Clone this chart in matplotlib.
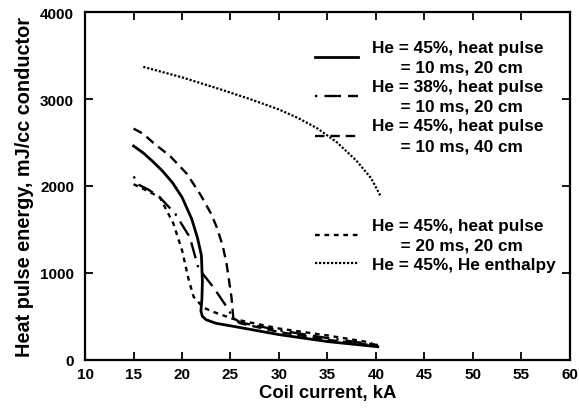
import matplotlib.pyplot as plt

plt.rcParams['font.family'] = ['Liberation Sans', 'DejaVu Sans']
plt.rcParams['font.weight'] = 'bold'

# He = 45%, heat pulse = 10 ms, 20 cm
x_45_10_20 = [15, 16, 17, 18, 19, 20, 21, 21.6, 22.0, 22.1, 22.05, 21.95, 22.1, 22.5, 23.5, 25.3, 30, 35, 40.2]
y_45_10_20 = [2460, 2380, 2280, 2170, 2040, 1870, 1620, 1400, 1200, 900, 700, 560, 500, 460, 420, 385, 290, 210, 150]

# He = 38%, heat pulse = 10 ms, 20 cm
x_38_10_20 = [15, 15.6, 16.5, 17.7, 19.3, 20.8, 21.7, 23.2, 24.6, 25.3, 26, 30, 35, 40.2]
y_38_10_20 = [2110, 2010, 1960, 1870, 1680, 1410, 1050, 840, 610, 480, 430, 340, 250, 170]

# He = 45%, heat pulse = 10 ms, 40 cm
x_45_10_40 = [15, 16, 17, 18.8, 20.5, 21.9, 23.0, 23.6, 24.2, 24.6, 25.1, 25.3, 26, 30, 35, 40.2]
y_45_10_40 = [2660, 2600, 2500, 2340, 2140, 1900, 1680, 1520, 1310, 1100, 720, 470, 420, 320, 230, 160]

# He = 45%, heat pulse = 20 ms, 20 cm
x_45_20_20 = [15, 16.3, 17.7, 19.1, 20.0, 20.7, 21.2, 22.2, 23.5, 25.3, 30, 35, 39.4, 40.2]
y_45_20_20 = [2020, 1950, 1870, 1570, 1260, 916, 724, 600, 540, 470, 360, 280, 200, 140]

# He = 45%, He enthalpy
x_enth = [16.0, 18, 20, 22, 24, 27, 30, 32, 34, 36, 38, 39.5, 40.5]
y_enth = [3370, 3310, 3250, 3180, 3110, 3000, 2880, 2780, 2660, 2500, 2290, 2090, 1880]

labels = ["He = 45%, heat pulse\n      = 10 ms, 20 cm",
          "He = 38%, heat pulse\n      = 10 ms, 20 cm",
          "He = 45%, heat pulse\n      = 10 ms, 40 cm",
          "He = 45%, heat pulse\n      = 20 ms, 20 cm",
          "He = 45%, He enthalpy"]

fig = plt.figure(figsize=(5.79, 4.10), dpi=100)
ax = fig.add_axes([0.147, 0.12, 0.837, 0.848])

lw = 1.7
l1, = ax.plot(x_45_10_20, y_45_10_20, 'k-', lw=lw + 0.3)
l2, = ax.plot(x_38_10_20, y_38_10_20, 'k', lw=lw, dashes=[1, 3, 7, 3, 7, 3])
l3, = ax.plot(x_45_10_40, y_45_10_40, 'k', lw=lw, dashes=[4, 2.5])
l4, = ax.plot(x_45_20_20, y_45_20_20, 'k', lw=lw, dashes=[2, 2])
l5, = ax.plot(x_enth, y_enth, 'k', lw=1.6, dashes=[1, 0.8])

ax.set_xlim(10, 60)
ax.set_ylim(0, 4000)
ax.set_xticks(range(10, 61, 5))
ax.set_yticks(range(0, 4001, 1000))
ax.tick_params(direction='in', top=True, right=True, length=6, width=1.3,
               labelsize=11)
ax.tick_params(axis='y', pad=8)
ax.tick_params(axis='x', pad=5)
for s in ax.spines.values():
    s.set_linewidth(1.6)

ax.set_xlabel("Coil current, kA", fontsize=13.3, fontweight='bold', labelpad=2)
ax.set_ylabel("Heat pulse energy, mJ/cc conductor", fontsize=14.3, fontweight='bold')
ax.yaxis.set_label_coords(-0.105, 0.5)

leg_kw = dict(loc='upper left', frameon=False, fontsize=12.4, handlelength=2.5,
              handletextpad=0.8, labelspacing=0.25, borderaxespad=0, borderpad=0)
leg1 = ax.legend([l1, l2, l3], labels[:3], bbox_to_anchor=(0.474, 0.921), **leg_kw)
ax.add_artist(leg1)
leg2 = ax.legend([l4, l5], labels[3:], bbox_to_anchor=(0.474, 0.409), **leg_kw)
for lg in (leg1, leg2):
    for t in lg.get_texts():
        t.set_linespacing(1.42)

plt.savefig("out.png", dpi=100)
